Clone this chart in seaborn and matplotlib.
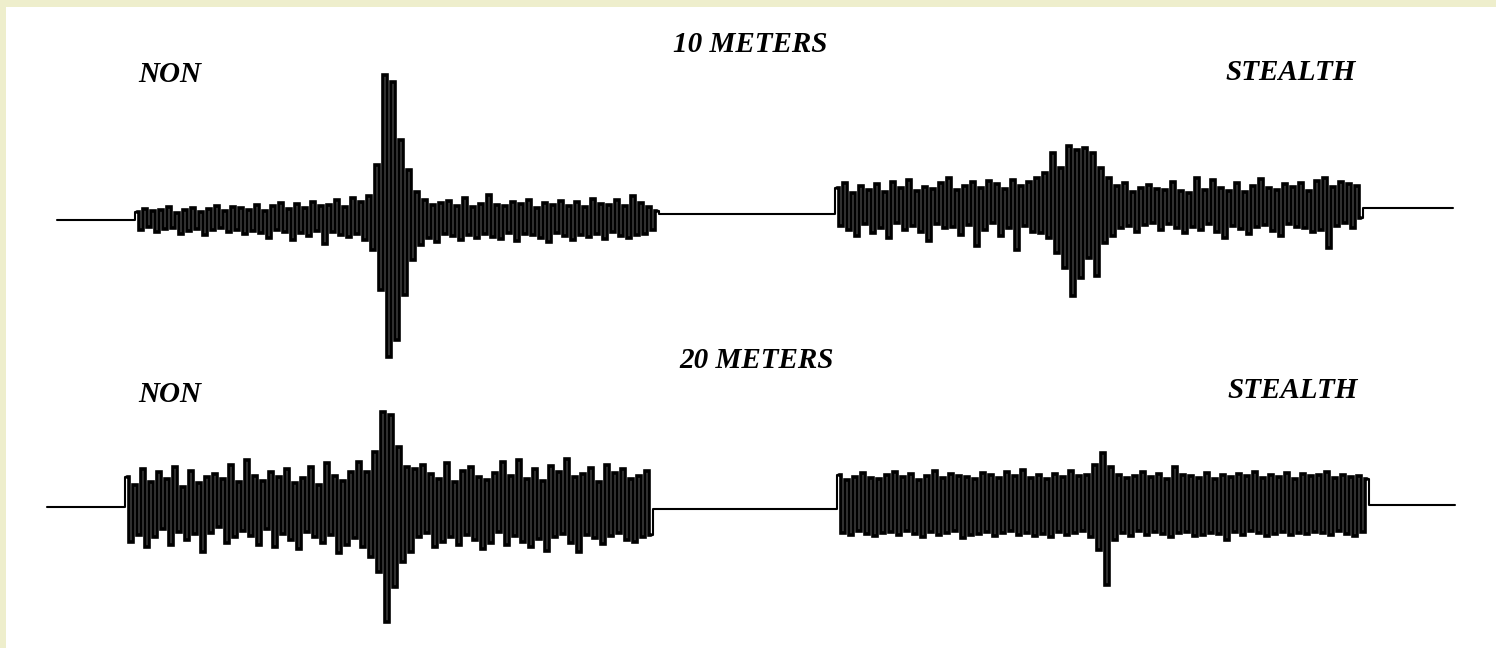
import numpy as np
import pandas as pd
import matplotlib
matplotlib.use("Agg")
import matplotlib.pyplot as plt
import seaborn as sns
from matplotlib.patches import Rectangle

sns.set_theme(style="white")
plt.rcParams['font.family'] = ['Liberation Serif', 'DejaVu Serif']

# ---------------- data (trace deflections, upward positive) ----------------
row_titles = ["10 METERS", "20 METERS"]
left_label = "NON"
right_label = "STEALTH"

# 10 m row
non10 = [8, -10, 11, -7, 9, -12, 10, -9, 13, -8, 7, -14, 10, -11, 12, -9, 8, -15, 11, -10, 14, -8, 9, -12, 13, -10,
         12, -14, 10, -11, 15, -13, 9, -18, 14, -10, 17, -12, 11, -20, 16, -13, 12, -16, 18, -11, 14, -24, 15, -12,
         20, -15, 13, -17, 22, -14, 18, -20, 24,
         -30, 55, -70, 145, -137, 138, -120, 80, -75, 50, -40,
         28, -25, 20, -18, 15, -22, 17, -14, 19, -16, 14, -20, 22, -15, 13, -18, 16, -14, 25, -17,
         15, -19, 14, -13, 18, -21, 16, -14, 20, -15, 12, -18, 17, -22, 15, -13, 19, -16, 14, -20,
         18, -15, 13, -17, 21, -14, 16, -19, 15, -12, 20, -16, 14, -18, 24, -15, 17, -14, 13, -10, 9]
stealth10 = [20, -18, 25, -22, 15, -28, 22, -16, 18, -25, 24, -20, 16, -30, 26, -15, 20, -22, 28, -18,
             17, -24, 21, -33, 19, -16, 25, -20, 30, -19, 18, -27, 22, -17, 26, -38, 20, -22, 27, -15,
             24, -28, 19, -20, 28, -42, 22, -18, 26, -24, 30,
             -25, 35, -30, 55, -45, 40, -60, 62, -88, 58, -70, 60, -50, 55, -68, 40, -35, 30,
             -28, 22, -20, 25, -18, 16, -24, 20, -17, 23, -15, 19, -22, 18, -16, 26, -20, 17, -25, 15,
             -19, 30, -22, 18, -16, 28, -24, 20, -30, 17, -18, 25, -21, 16, -26, 22, -19, 29, -17, 20,
             -23, 18, -28, 24, -16, 21, -19, 25, -20, 17, -24, 27, -22, 30, -40, 21, -18, 26, -15, 24,
             -20, 22, -10]
lead10, gap10, tail10 = 20, 44, 23          # quiet samples before / between / after
level10 = [0, 6, 12]                        # baseline: NON, gap, STEALTH

# 20 m row
non20 = [30, -35, 22, -28, 38, -40, 25, -30, 35, -22, 28, -38, 40, -25, 20, -33, 36, -27, 24, -45,
         30, -26, 33, -20, 28, -36, 42, -30, 25, -24, 47, -29, 31, -38, 26, -22, 35, -40, 30, -27,
         38, -33, 24, -42, 29, -25, 40, -30, 22, -36, 44, -28, 31, -46, 26, -38, 35, -31, 45, -40,
         35, -50, 55, -65, 95, -115, 92, -80, 60, -55, 40, -45,
         38, -30, 42, -26, 33, -40, 28, -35, 44, -30, 25, -38, 36, -28, 40, -33, 30, -42, 27, -36,
         34, -25, 45, -38, 31, -29, 47, -35, 28, -40, 38, -32, 26, -44, 41, -30, 35, -27, 48, -36,
         30, -45, 33, -28, 39, -31, 25, -37, 42, -29, 34, -26, 38, -33, 28, -35, 31, -30, 36, -28]
stealth20 = [30, -28, 25, -30, 28, -26, 32, -29, 27, -31, 26, -28, 30, -27, 33, -30, 28, -26, 31, -29,
             25, -32, 29, -27, 34, -30, 27, -28, 31, -26, 29, -33, 28, -30, 26, -29, 32, -27, 30, -31,
             27, -28, 33, -26, 29, -30, 35, -28, 27, -31, 30, -29, 26, -32, 31, -27, 28, -30, 34, -28,
             29, -26, 30, -32,
             40, -45, 52, -80, 38, -35,
             30, -28, 27, -31, 29, -26, 33, -30, 28, -27, 31, -29, 26, -32, 38, -28, 30, -27, 29, -31,
             27, -30, 32, -28, 26, -29, 30, -35, 28, -27, 31, -30, 29, -26, 33, -28, 27, -31, 30, -29,
             28, -27, 32, -30, 26, -28, 31, -29, 29, -27, 30, -28, 33, -30, 27, -26, 30, -29, 28, -31,
             29, -27, 26]
lead20, gap20, tail20 = 20, 46, 22
level20 = [0, -2, 2]


def build_trace(lead, non, gap, stealth, tail, levels):
    parts = [
        ("quiet", np.full(lead, levels[0], dtype=float)),
        ("non", np.asarray(non, dtype=float) + levels[0]),
        ("quiet", np.full(gap, levels[1], dtype=float)),
        ("stealth", np.asarray(stealth, dtype=float) + levels[2]),
        ("quiet", np.full(tail, levels[2], dtype=float)),
    ]
    y = np.concatenate([p[1] for p in parts])
    seg = np.concatenate([[p[0]] * len(p[1]) for p in parts])
    return pd.DataFrame({"sample": np.arange(len(y)), "amp": y, "segment": seg})


W, H = 1496, 648
fig = plt.figure(figsize=(W / 100, H / 100), dpi=100)
fig.patch.set_facecolor("#EEEECC")
fig.patches.append(Rectangle((6 / W, 0), 1 - 6 / W, (H - 7) / H, transform=fig.transFigure,
                             facecolor="white", edgecolor="none", zorder=-5))

step_px = 4.0


def add_row(df, left_px, base_px, up_px, down_px):
    n = len(df)
    width_px = n * step_px
    ax = fig.add_axes([left_px / W, 1 - (base_px + down_px) / H, width_px / W, (up_px + down_px) / H])
    ax.set_facecolor("none")
    ax.set_zorder(2)
    # full trace as a thin line (quiet baseline parts)
    sns.lineplot(data=df, x="sample", y="amp", ax=ax, estimator=None, sort=False,
                 color="black", linewidth=1.5, drawstyle="steps-mid", legend=False)
    # noisy bursts drawn heavy so the printed trace reads as a dense black band
    bursts = df[df["segment"] != "quiet"]
    sns.lineplot(data=bursts, x="sample", y="amp", units="segment", ax=ax, estimator=None,
                 sort=False, color="black", linewidth=2.6, drawstyle="steps-mid",
                 solid_joinstyle="miter", legend=False)
    ax.set_xlim(-0.5, n - 0.5)
    ax.set_ylim(-down_px, up_px)
    ax.axis("off")
    return ax


df10 = build_trace(lead10, non10, gap10, stealth10, tail10, level10)
df20 = build_trace(lead20, non20, gap20, stealth20, tail20, level20)
add_row(df10, 55, 220, 160, 150)
add_row(df20, 45, 507, 110, 135)

tkw = dict(fontsize=21, fontweight="bold", fontstyle="italic", color="black", va="center", zorder=3)
fig.text(750 / W, 1 - 45 / H, row_titles[0], ha="center", **tkw)
fig.text(138 / W, 1 - 75 / H, left_label, ha="left", **tkw)
fig.text(1356 / W, 1 - 73 / H, right_label, ha="right", **tkw)
fig.text(757 / W, 1 - 361 / H, row_titles[1], ha="center", **tkw)
fig.text(138 / W, 1 - 395 / H, left_label, ha="left", **tkw)
fig.text(1358 / W, 1 - 390 / H, right_label, ha="right", **tkw)

fig.savefig("out.png", dpi=100, facecolor=fig.get_facecolor())
